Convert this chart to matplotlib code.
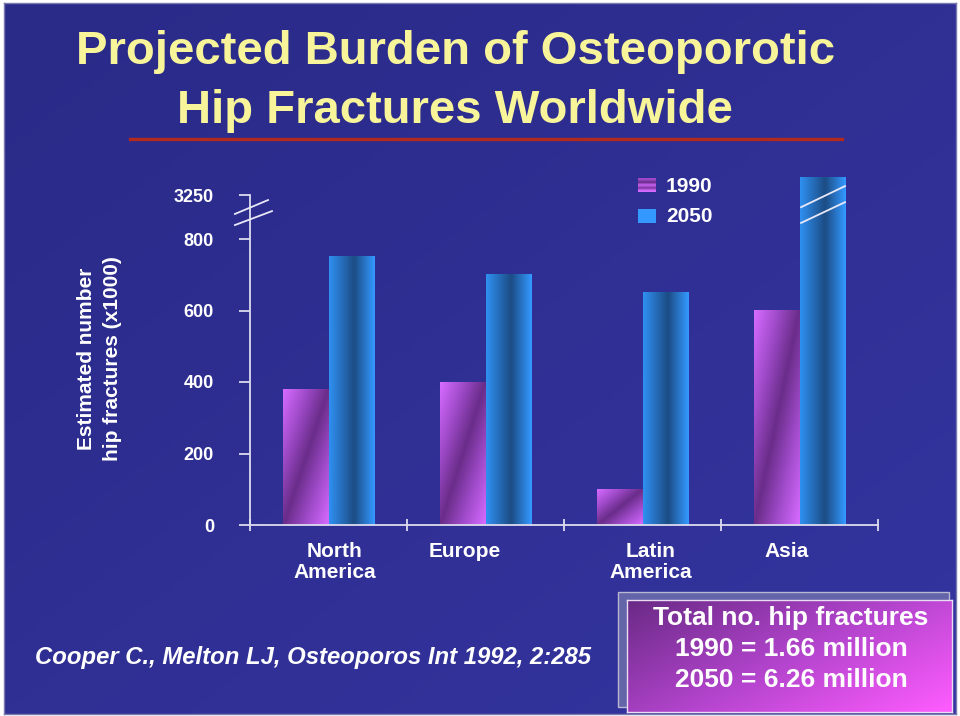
import numpy as np
import matplotlib
matplotlib.use('Agg')
import matplotlib.pyplot as plt
import matplotlib.transforms as mtransforms
from matplotlib.colors import LinearSegmentedColormap
from matplotlib.patches import Rectangle
from matplotlib.lines import Line2D

plt.rcParams['font.family'] = ['Liberation Sans', 'DejaVu Sans']

# data (x1000 hip fractures)
regions = ['North\nAmerica', 'Europe', 'Latin\nAmerica', 'Asia']
fractures_1990 = [378, 400, 100, 600]
fractures_2050 = [750, 700, 650, 3250]
years = ['1990', '2050']
ytick_values = [0, 200, 400, 600, 800, 3250]
title_lines = ['Projected Burden of Osteoporotic', 'Hip Fractures Worldwide']
ylabel_lines = ['Estimated number', 'hip fractures (x1000)']
summary_lines = ['Total no. hip fractures', '1990 = 1.66 million', '2050 = 6.26 million']
citation = 'Cooper C., Melton LJ, Osteoporos Int 1992, 2:285'

W, H = 960, 716
def fx(px):
    return px / W
def fy(py):
    return 1 - py / H

# broken axis: everything above 800 is squeezed into the top strip
break_at = 800
tick_top = 923
overflow_top = 973
def shown(v):
    return v if v <= break_at else overflow_top

cmap_1990 = LinearSegmentedColormap.from_list('c1990', ['#6a2d8a', '#a24ccc', '#d66bff'])
cmap_2050 = LinearSegmentedColormap.from_list(
    'c2050', [(0, '#2f8ff0'), (0.55, '#1c4c84'), (1, '#3399ff')])
cmap_bg = LinearSegmentedColormap.from_list('bg', ['#2a2a88', '#3434a0'])
cmap_box = LinearSegmentedColormap.from_list('box', ['#6a2a86', '#b244cc', '#ff5cff'])

fig = plt.figure(figsize=(9.6, 7.16), dpi=100, facecolor='white')

# slide background
bg = fig.add_axes([fx(4), fy(714), fx(956) - fx(4), fy(3) - fy(714)], zorder=0)
yy, xx = np.mgrid[0:1:200j, 0:1:200j]
bg.imshow(0.5 * yy + 0.5 * xx, cmap=cmap_bg, aspect='auto', extent=[0, 1, 0, 1])
bg.set_xticks([])
bg.set_yticks([])
for s in bg.spines.values():
    s.set_color('#7a7ab0')
    s.set_linewidth(1)

# title
for i, line in enumerate(title_lines):
    fig.text(fx(455), fy([64, 123][i]), line, ha='center', va='baseline',
             fontsize=34, fontweight='bold', color='#f8f49a')
fig.add_artist(Line2D([fx(130), fx(842)], [fy(139), fy(139)], color='#b22a1e',
                      lw=2.4, transform=fig.transFigure))

# chart
ax = fig.add_axes([fx(250), fy(525), fx(878) - fx(250), 357.5 / H], zorder=1)
ax.patch.set_visible(False)

bw = 0.29
xc = np.arange(len(regions)) + 0.5
u = np.linspace(0, 1, 40)
v = np.linspace(0, 1, 120)[:, None]
grad_1990 = np.abs((u + v) / 2 - 0.5) * 2
grad_2050 = np.tile(u, (2, 1))
for i in range(len(regions)):
    h1 = shown(fractures_1990[i])
    h2 = shown(fractures_2050[i])
    ax.imshow(grad_1990, cmap=cmap_1990, aspect='auto', interpolation='bilinear',
              extent=[xc[i] - bw, xc[i], 0, h1], zorder=2)
    ax.imshow(grad_2050, cmap=cmap_2050, aspect='auto', interpolation='bilinear',
              extent=[xc[i], xc[i] + bw, 0, h2], zorder=2)
    if fractures_2050[i] > break_at:
        for y0, y1 in [(889, 948), (845, 903)]:
            ax.plot([xc[i] + 0.01, xc[i] + bw], [y0, y1], color='#e8e8f8', lw=1.3, zorder=3)

ax.set_xlim(0, len(regions))
ax.set_ylim(0, 1000)

axis_col = '#dcdcee'
for side in ['top', 'right']:
    ax.spines[side].set_visible(False)
ax.spines['left'].set_bounds(0, tick_top)
for side in ['left', 'bottom']:
    ax.spines[side].set_color(axis_col)
    ax.spines[side].set_linewidth(1.3)

ytick_pos = [shown(t) if t <= break_at else tick_top for t in ytick_values]
ax.set_yticks(ytick_pos, [str(t) for t in ytick_values])
ax.tick_params(axis='y', direction='out', length=8, width=1.3, color=axis_col,
               pad=18, labelsize=13, labelcolor='white')
for lbl in ax.get_yticklabels():
    lbl.set_fontweight('bold')
ax.set_xticks(np.arange(len(regions) + 1))
ax.set_xticklabels([])
ax.tick_params(axis='x', direction='inout', length=9, width=1.3, color=axis_col)

# axis break marks
for x1, y0, y1 in [(0.115, 870, 909), (0.14, 839, 878)]:
    ax.plot([-0.096, x1], [y0, y1], color='#e8e8f8', lw=1.3, clip_on=False, zorder=3)

# category labels
trans = mtransforms.blended_transform_factory(ax.transData, fig.transFigure)
label_dx = [0.04, -0.13, 0.05, -0.08]
for i, name in enumerate(regions):
    for j, line in enumerate(name.split('\n')):
        ax.text(xc[i] + label_dx[i], fy(557 + 21 * j), line, transform=trans,
                ha='center', va='baseline', fontsize=15, fontweight='bold', color='white')

# y label
for j, line in enumerate(ylabel_lines):
    fig.text(fx([87, 112][j]), fy(359), line, rotation=90, ha='center', va='center',
             fontsize=15, fontweight='bold', color='white')

# legend
leg_1990 = fig.add_axes([fx(638), fy(192), fx(18), 14 / H], zorder=2)
leg_1990.imshow(np.array([[0.55], [0.15], [0.9], [0.3], [1.0]]), cmap=cmap_1990,
                aspect='auto', interpolation='bilinear')
leg_1990.axis('off')
fig.add_artist(Rectangle((fx(638), fy(223)), fx(18), 14 / H, transform=fig.transFigure,
                         facecolor='#3399ff', edgecolor='none', zorder=2))
for j, yr in enumerate(years):
    fig.text(fx(666), fy([192, 222][j]), yr, ha='left', va='baseline',
             fontsize=15, fontweight='bold', color='white')

# citation
fig.text(fx(35), fy(664), citation, ha='left', va='baseline', fontsize=17.2,
         fontweight='bold', fontstyle='italic', color='white')

# summary box
fig.add_artist(Rectangle((fx(618), fy(707)), fx(949 - 618), (707 - 592) / H,
                         transform=fig.transFigure, facecolor='#6464a8',
                         edgecolor='#b8b8d4', lw=1, zorder=1.5))
box = fig.add_axes([fx(627), fy(712), fx(952 - 627), (712 - 600) / H], zorder=2)
ub = np.linspace(0, 1, 120)
vb = np.linspace(0, 1, 60)[:, None]
box.imshow(0.6 * ub + 0.4 * vb, cmap=cmap_box, aspect='auto', interpolation='bilinear')
box.set_xticks([])
box.set_yticks([])
for s in box.spines.values():
    s.set_color('#eadcf2')
    s.set_linewidth(1)
for j, line in enumerate(summary_lines):
    fig.text(fx(791), fy(625 + 31 * j), line, ha='center', va='baseline',
             fontsize=19, fontweight='bold', color='white', zorder=5)

fig.savefig('out.png', dpi=100, facecolor=fig.get_facecolor())
